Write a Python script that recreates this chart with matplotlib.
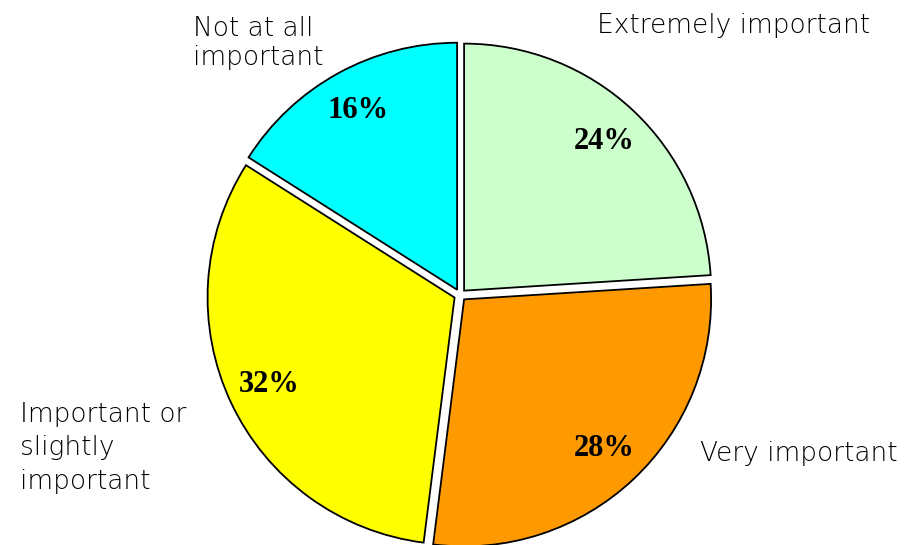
import matplotlib
matplotlib.use("Agg")
import matplotlib.pyplot as plt

labels = ["Extremely important", "Very important",
          "Important or\nslightly\nimportant", "Not at all\nimportant"]
shares = [24, 28, 32, 16]
colors = ["#ccffcc", "#ff9900", "#ffff00", "#00ffff"]

fig = plt.figure(figsize=(9.11, 5.45), dpi=100)
ax = fig.add_axes([0, 0, 1, 1])

wedges, texts, autotexts = ax.pie(
    shares, colors=colors, startangle=90, counterclock=False,
    radius=247, center=(460, 250), explode=[6] * len(shares),
    autopct="%d%%", pctdistance=0.83,
    wedgeprops=dict(edgecolor="black", linewidth=1.3),
    textprops=dict(family="Liberation Serif", fontweight="bold",
                   fontsize=22, color="black"),
    frame=True,
)
ax.set_xlim(0, 911)
ax.set_ylim(0, 545)
ax.axis("off")

label_font = dict(family="DejaVu Sans", fontweight=200, fontsize=19,
                  color="black")
# label anchors (left, top) in pixel units of the picture
spots = [(597, 13), (700, 441), (20, 402), (193, 16)]
spacing = [1.2, 1.2, 1.42, 1.22]
for lab, (x, y), ls in zip(labels, spots, spacing):
    ax.text(x, 545 - y, lab, ha="left", va="top", linespacing=ls, **label_font)

fig.savefig("out.png", dpi=100)
